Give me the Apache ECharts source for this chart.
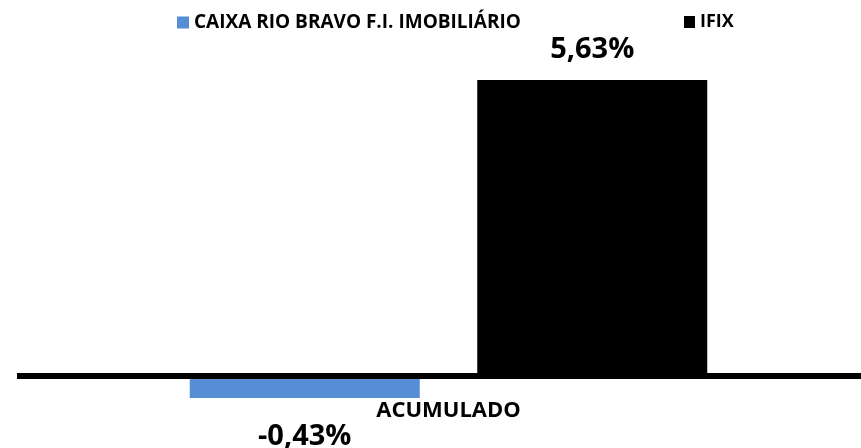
<!DOCTYPE html>
<html>
<head>
<meta charset="utf-8">
<script src="https://cdn.jsdelivr.net/npm/echarts@6/dist/echarts.min.js"></script>
<style>
  html, body { margin: 0; padding: 0; background: #fff; }
  #main { width: 861px; height: 448px; }
</style>
</head>
<body>
<div id="main"></div>
<script>
const categories = ['ACUMULADO'];
const seriesNames = ['CAIXA RIO BRAVO F.I. IMOBILIÁRIO', 'IFIX'];
const fundValues = [-0.43];
const ifixValues = [5.63];
const colors = ['#558ED5', '#000000'];

const font = '"Open Sans", sans-serif';
const fmt = (p) => p.value.toFixed(2).replace('.', ',') + '%';

const chart = echarts.init(document.getElementById('main'));
chart.setOption({
  animation: false,
  textStyle: { fontFamily: font },
  legend: [
    {
      data: [seriesNames[0]],
      left: 177, top: 13, padding: 0,
      itemWidth: 12, itemHeight: 12, itemGap: 6,
      icon: 'rect',
      textStyle: { fontFamily: font, fontWeight: 'bold', fontSize: 19, color: '#000' }
    },
    {
      data: [seriesNames[1]],
      left: 684, top: 13, padding: 0,
      itemWidth: 11, itemHeight: 12, itemGap: 7,
      icon: 'rect',
      textStyle: { fontFamily: font, fontWeight: 'bold', fontSize: 18, color: '#000' }
    }
  ],
  grid: [
    { left: 36, right: 0, top: 60.5, bottom: 20, outerBoundsMode: 'none' },
    { left: 17, right: 0, top: 60.5, bottom: 20, outerBoundsMode: 'none' }
  ],
  xAxis: [
    {
      type: 'category',
      gridIndex: 0,
      data: categories,
      axisLine: { show: false, onZero: false },
      axisTick: { show: false },
      axisLabel: {
        interval: 0, margin: -28,
        fontFamily: font, fontWeight: 'bold', fontSize: 22, color: '#000'
      }
    },
    {
      type: 'value',
      gridIndex: 1,
      z: 5,
      axisLine: { show: true, lineStyle: { color: '#000', width: 6, cap: 'butt' } },
      axisTick: { show: false },
      axisLabel: { show: false },
      splitLine: { show: false }
    }
  ],
  yAxis: [
    { type: 'value', gridIndex: 0, min: -1, max: 6, show: false, splitLine: { show: false } },
    { type: 'value', gridIndex: 1, min: -1, max: 6, show: false, splitLine: { show: false } }
  ],
  series: [
    {
      name: seriesNames[0],
      type: 'bar',
      data: fundValues,
      barWidth: 230,
      barGap: '25%',
      itemStyle: { color: colors[0] },
      label: {
        show: true, position: 'bottom', distance: 24,
        formatter: fmt,
        fontFamily: font, fontWeight: 'bold', fontSize: 29, color: '#000'
      }
    },
    {
      name: seriesNames[1],
      type: 'bar',
      data: ifixValues,
      barWidth: 230,
      barGap: '25%',
      itemStyle: { color: colors[1] },
      label: {
        show: true, position: 'top', distance: 16,
        formatter: fmt,
        fontFamily: font, fontWeight: 'bold', fontSize: 29, color: '#000'
      }
    }
  ]
});
</script>
</body>
</html>
